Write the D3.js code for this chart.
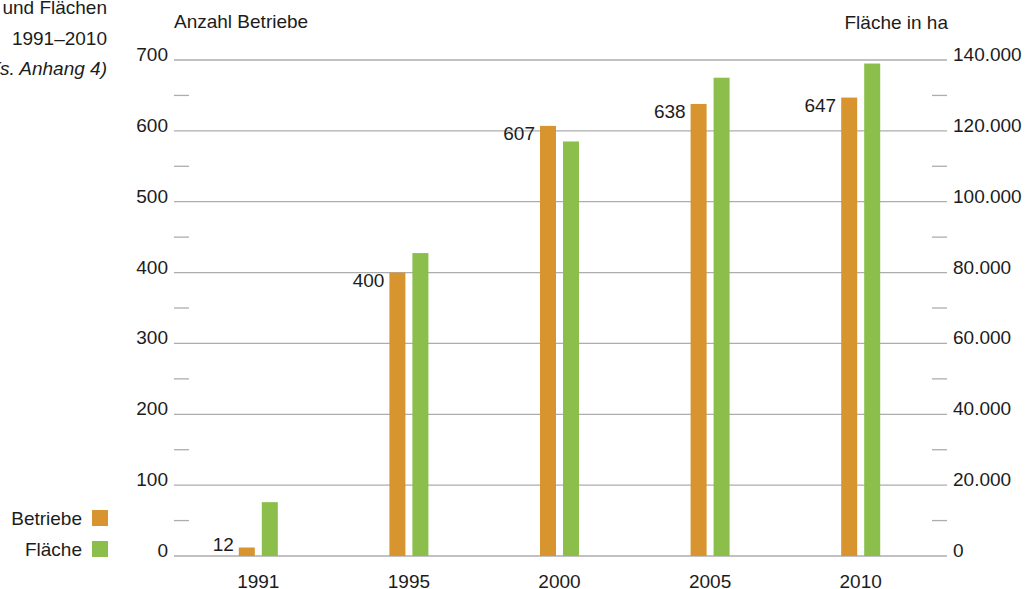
<!DOCTYPE html>
<html>
<head>
<meta charset="utf-8">
<script src="https://cdn.jsdelivr.net/npm/d3@7"></script>
<style>
    body { margin: 0; background: #fff; }
    svg text { font-family: "Liberation Sans", Arial, sans-serif; fill: #1c1c1c; font-size: 19px; }
</style>
</head>
<body>
<div id="chart"></div>
<script>
var years = ["1991", "1995", "2000", "2005", "2010"];
var betriebe = [12, 400, 607, 638, 647];
var flaeche = [15200, 85500, 117000, 135000, 139000];
var leftTicks = [0, 100, 200, 300, 400, 500, 600, 700];
var rightTicks = [0, 20000, 40000, 60000, 80000, 100000, 120000, 140000];
var titleLines = ["und Flächen", "1991–2010", "(s. Anhang 4)"];

var orange = "#D8952F";
var green = "#8BBE4B";
var gridColor = "#adadad";

var width = 1025,
    height = 589;

var svg = d3.select("#chart")
    .append("svg")
    .attr("width", width)
    .attr("height", height);

var gridLeft = 174, gridRight = 947;

var x = d3.scaleBand()
    .domain(years)
    .range([183, 936]);

var yLeft = d3.scaleLinear()
    .domain([0, 700])
    .range([556, 60]);

var yRight = d3.scaleLinear()
    .domain([0, 140000])
    .range([556, 60]);

// gridlines + minor ticks
leftTicks.forEach(function (t, i) {
    svg.append("line")
        .attr("x1", gridLeft).attr("x2", gridRight)
        .attr("y1", yLeft(t)).attr("y2", yLeft(t))
        .attr("stroke", gridColor)
        .attr("stroke-width", 1.3);
    if (i < leftTicks.length - 1) {
        var mid = yLeft(t + 50);
        svg.append("line")
            .attr("x1", gridLeft).attr("x2", gridLeft + 15)
            .attr("y1", mid).attr("y2", mid)
            .attr("stroke", gridColor).attr("stroke-width", 1.3);
        svg.append("line")
            .attr("x1", gridRight - 15).attr("x2", gridRight)
            .attr("y1", mid).attr("y2", mid)
            .attr("stroke", gridColor).attr("stroke-width", 1.3);
    }
    svg.append("text")
        .attr("x", 168)
        .attr("y", yLeft(t) + 1)
        .attr("text-anchor", "end")
        .text(t);
});

var fmt = d3.formatLocale({ decimal: ",", thousands: ".", grouping: [3], currency: ["", ""] }).format(",");
rightTicks.forEach(function (t) {
    svg.append("text")
        .attr("x", 953)
        .attr("y", yRight(t) + 1)
        .text(fmt(t));
});

// axis titles
svg.append("text")
    .attr("x", 174).attr("y", 28)
    .text("Anzahl Betriebe");
svg.append("text")
    .attr("x", 948).attr("y", 29)
    .attr("text-anchor", "end")
    .text("Fläche in ha");

// cut-off chart title at left
var titleY = [14, 45, 75];
titleLines.forEach(function (line, i) {
    svg.append("text")
        .attr("x", 107)
        .attr("y", titleY[i])
        .attr("text-anchor", "end")
        .style("font-style", i == 2 ? "italic" : "normal")
        .text(line);
});

// bars
var barW = 16, gap = 7;
years.forEach(function (yr, i) {
    var cx = x(yr) + x.bandwidth() / 2;
    var ox = cx - gap / 2 - barW;
    svg.append("rect")
        .attr("x", ox)
        .attr("y", yLeft(betriebe[i]))
        .attr("width", barW)
        .attr("height", yLeft(0) - yLeft(betriebe[i]))
        .attr("fill", orange);
    svg.append("rect")
        .attr("x", cx + gap / 2)
        .attr("y", yRight(flaeche[i]))
        .attr("width", barW)
        .attr("height", yRight(0) - yRight(flaeche[i]))
        .attr("fill", green);
    svg.append("text")
        .attr("x", ox - 5)
        .attr("y", Math.min(yLeft(betriebe[i]) + 14, 551))
        .attr("text-anchor", "end")
        .text(betriebe[i]);
    svg.append("text")
        .attr("x", cx)
        .attr("y", 588)
        .attr("text-anchor", "middle")
        .text(yr);
});

// legend
var legend = [["Betriebe", orange], ["Fläche", green]];
legend.forEach(function (d, i) {
    var ly = 510 + i * 31;
    svg.append("rect")
        .attr("x", 92).attr("y", ly)
        .attr("width", 16).attr("height", 16)
        .attr("fill", d[1]);
    svg.append("text")
        .attr("x", 82).attr("y", ly + 15)
        .attr("text-anchor", "end")
        .text(d[0]);
});
</script>
</body>
</html>
